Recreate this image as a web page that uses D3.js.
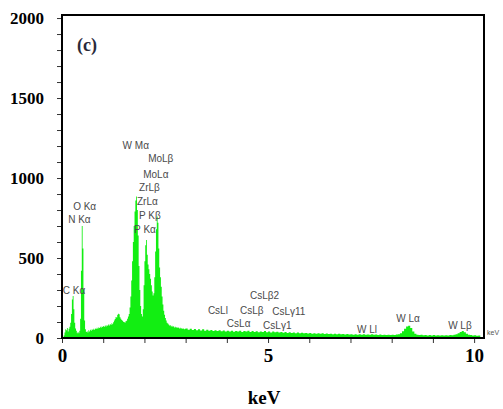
<!DOCTYPE html>
<html>
<head>
<meta charset="utf-8">
<script src="https://d3js.org/d3.v7.min.js"></script>
<style>
  body { margin: 0; background: #fff; }
  svg { display: block; }
</style>
</head>
<body>
<div id="chart"></div>

<script>
// EDS spectrum, counts per channel
// 0.00 - 2.98 keV, 0.02 keV per channel
const lowStart = 0, lowStep = 0.02;
const lowCounts = [
  0, 5, 15, 35, 55, 48, 62, 40, 58, 70,
  95, 150, 240, 262, 180, 95, 60, 45, 30, 38,
  30, 45, 120, 420, 700, 560, 300, 110, 55, 38,
  42, 35, 48, 40, 52, 45, 55, 50, 58, 52,
  60, 56, 64, 58, 66, 62, 70, 64, 72, 68,
  75, 70, 78, 72, 80, 76, 84, 78, 88, 82,
  92, 86, 98, 110, 118, 132, 128, 145, 152, 148,
  130, 120, 112, 108, 102, 100, 96, 104, 108, 120,
  135, 150, 190, 260, 360, 480, 600, 700, 790, 860,
  885, 800, 640, 450, 300, 200, 150, 135, 180, 330,
  480, 580, 612, 520, 460, 430, 400, 370, 330, 290,
  265, 280, 380, 540, 680, 760, 720, 560, 440, 380,
  320, 260, 210, 170, 145, 125, 110, 96, 90, 84,
  78, 80, 72, 76, 70, 74, 66, 70, 64, 68,
  62, 66, 60, 64, 58, 62, 56, 60, 55, 58
];
// 3.00 - 10.15 keV, 0.05 keV per channel
const highStart = 3.0, highStep = 0.05;
const highCounts = [
  60, 52, 58, 50, 56, 48, 54, 47, 55, 46,
  52, 45, 50, 44, 49, 43, 48, 42, 47, 41,
  46, 40, 45, 39, 44, 40, 46, 38, 44, 40,
  45, 38, 43, 37, 42, 36, 41, 37, 43, 36,
  40, 35, 41, 36, 39, 34, 38, 33, 37, 32,
  36, 31, 35, 30, 34, 30, 33, 29, 32, 28,
  31, 27, 30, 27, 29, 26, 29, 25, 28, 25,
  27, 24, 27, 23, 26, 23, 25, 22, 25, 22,
  24, 21, 24, 21, 23, 20, 23, 20, 22, 20,
  23, 20, 22, 19, 22, 19, 21, 19, 21, 18,
  21, 19, 22, 24, 30, 42, 58, 72, 76, 62,
  40, 26, 20, 18, 20, 17, 19, 16, 18, 16,
  18, 15, 17, 15, 17, 15, 17, 16, 18, 17,
  20, 24, 30, 38, 44, 36, 26, 20, 18, 16,
  17, 14, 15, 12
];

// peak annotations: text, left edge in keV, vertical centre in counts
const peakNames = ["W M\u03b1", "MoL\u03b2", "MoL\u03b1", "ZrL\u03b2", "ZrL\u03b1", "P K\u03b2", "P K\u03b1",
  "O K\u03b1", "N K\u03b1", "C K\u03b1", "CsLl", "CsL\u03b1", "CsL\u03b22", "CsL\u03b2", "CsL\u03b311",
  "CsL\u03b31", "W Ll", "W L\u03b1", "W L\u03b2"];
const peakKeV = [1.47, 2.09, 1.97, 1.87, 1.82, 1.87, 1.75, 0.27, 0.15, 0.02, 3.54, 4.0, 4.56, 4.32, 5.1,
  4.88, 7.16, 8.11, 9.37];
const peakLevel = [1206, 1119, 1025, 938, 856, 763, 681, 819, 738, 300, 169, 88, 263, 169, 163,
  81, 56, 125, 81];

const xTickValues = d3.range(0, 11, 1);
const xTickLabels = [0, 5, 10];
const yTickValues = d3.range(0, 2001, 100);
const yTickLabels = [0, 500, 1000, 1500, 2000];

// build channel list
const spectrum = lowCounts.map((c, i) => ({ e: lowStart + i * lowStep, c: c }))
  .concat(highCounts.map((c, i) => ({ e: highStart + i * highStep, c: c })));

const width = 503, height = 409;
const plot = { left: 62, right: 484, top: 15, bottom: 338 };

const svg = d3.select("#chart").append("svg")
  .attr("width", width)
  .attr("height", height);

const x = d3.scaleLinear().domain([0, 10.24]).range([plot.left, plot.right]);
const y = d3.scaleLinear().domain([0, 2019]).range([plot.bottom, plot.top]);

svg.append("clipPath").attr("id", "clip")
  .append("rect")
  .attr("x", plot.left).attr("y", plot.top)
  .attr("width", plot.right - plot.left).attr("height", plot.bottom - plot.top);

// spectrum fill
const area = d3.area()
  .curve(d3.curveStepAfter)
  .x(d => x(d.e))
  .y0(y(0))
  .y1(d => y(d.c));

svg.append("path")
  .datum(spectrum)
  .attr("clip-path", "url(#clip)")
  .attr("fill", "#12ee12")
  .attr("d", area);

// axes
const serif = "'Liberation Serif', 'Times New Roman', serif";
const sans = "'Liberation Sans', Arial, sans-serif";

const yAxis = svg.append("g")
  .attr("transform", `translate(${plot.left},0)`)
  .call(d3.axisLeft(y).tickValues(yTickValues).tickSize(5).tickPadding(13)
    .tickFormat(d => yTickLabels.includes(d) ? d : ""));
yAxis.select(".domain").remove();
yAxis.selectAll("line").attr("stroke", "#333");
yAxis.selectAll("text")
  .attr("font-family", serif).attr("font-weight", "bold").attr("font-size", 17).attr("fill", "#000");

const xAxis = svg.append("g")
  .attr("transform", `translate(0,${plot.bottom})`)
  .call(d3.axisBottom(x).tickValues(xTickValues).tickSize(5).tickPadding(6)
    .tickFormat(d => xTickLabels.includes(d) ? d : ""));
xAxis.select(".domain").remove();
xAxis.selectAll("line").attr("stroke", "#333");
xAxis.selectAll("text")
  .attr("font-family", serif).attr("font-weight", "bold").attr("font-size", 19).attr("fill", "#000");

// frame
svg.append("rect")
  .attr("x", plot.left).attr("y", plot.top)
  .attr("width", plot.right - plot.left).attr("height", plot.bottom - plot.top)
  .attr("fill", "none").attr("stroke", "#000").attr("stroke-width", 2);

// peak labels
svg.selectAll(".peak")
  .data(peakNames)
  .enter().append("text")
  .attr("class", "peak")
  .attr("x", (d, i) => x(peakKeV[i]))
  .attr("y", (d, i) => y(peakLevel[i]))
  .attr("dy", "0.35em")
  .attr("font-family", sans).attr("font-size", 10).attr("fill", "#4a4a4a")
  .text(d => d);

// small unit at right end of the axis
svg.append("text")
  .attr("x", 487).attr("y", 335)
  .attr("font-family", sans).attr("font-size", 7).attr("fill", "#555")
  .text("keV");

// panel letter
svg.append("text")
  .attr("x", 77).attr("y", 51)
  .attr("font-family", serif).attr("font-weight", "bold").attr("font-size", 18).attr("fill", "#2a2a3a")
  .text("(c)");

// axis title
svg.append("text")
  .attr("x", 264).attr("y", 404)
  .attr("text-anchor", "middle")
  .attr("font-family", serif).attr("font-weight", "bold").attr("font-size", 19).attr("fill", "#000")
  .text("keV");
</script>
</body>
</html>
